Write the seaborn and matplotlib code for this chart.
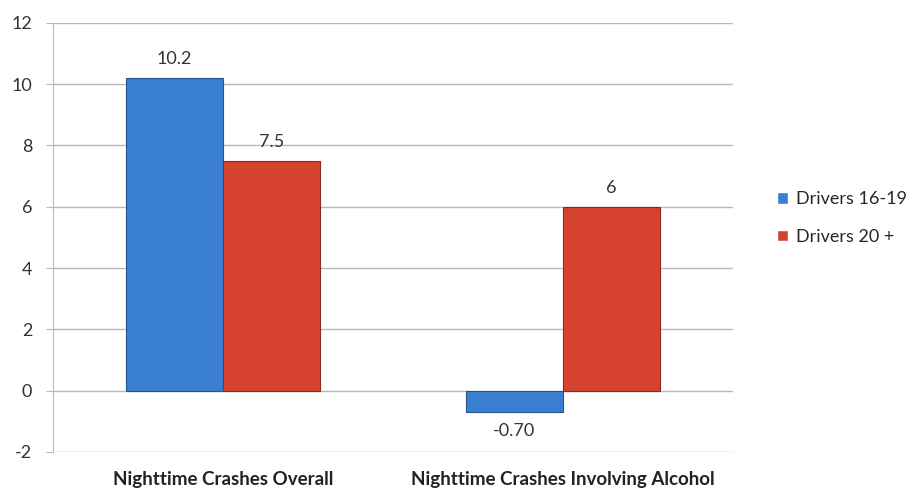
import pandas as pd
import matplotlib.pyplot as plt
import seaborn as sns

# chart data
categories = ['Nighttime Crashes Overall', 'Nighttime Crashes Involving Alcohol']
series = ['Drivers 16-19', 'Drivers 20 +']
drivers_16_19 = [10.2, -0.70]
drivers_20_plus = [7.5, 6]
labels_16_19 = ['10.2', '-0.70']
labels_20_plus = ['7.5', '6']
y_ticks = [-2, 0, 2, 4, 6, 8, 10, 12]

df = pd.DataFrame({
    'category': categories * 2,
    'group': [series[0]] * 2 + [series[1]] * 2,
    'value': drivers_16_19 + drivers_20_plus,
})

sns.set_style('white')
plt.rcParams['font.family'] = ['Lato', 'DejaVu Sans']

fig = plt.figure(figsize=(9.2, 4.98), dpi=100)
ax = fig.add_axes([0.0576, 0.0924, 0.739, 0.862])

palette = {series[0]: '#3b7fd2', series[1]: '#d5432f'}
sns.barplot(data=df, x='category', y='value', hue='group', palette=palette,
            width=0.57, saturation=1, ax=ax, zorder=3, legend=True)

for cont, edge in zip(ax.containers, ['#23558f', '#8e2a1d']):
    for bar in cont:
        bar.set_edgecolor(edge)
        bar.set_linewidth(0.8)

ax.bar_label(ax.containers[0], labels=labels_16_19, padding=8, fontsize=13, color='#333333')
ax.bar_label(ax.containers[1], labels=labels_20_plus, padding=8, fontsize=13, color='#333333')

ax.set_ylim(-2, 12)
ax.set_yticks(y_ticks)
ax.set_yticklabels([str(t) for t in y_ticks], fontsize=13, color='#333333')
ax.grid(axis='y', color='#b8b8b8', linewidth=1, zorder=0)
ax.tick_params(axis='y', length=5, color='#b8b8b8', pad=10, left=True)
ax.tick_params(axis='x', length=0, pad=14)
for lbl in ax.get_xticklabels():
    lbl.set_fontweight('bold')
    lbl.set_fontsize(13.5)
    lbl.set_color('#222222')

ax.set_xlabel('')
ax.set_ylabel('')
for side in ['top', 'right', 'bottom']:
    ax.spines[side].set_visible(False)
ax.spines['left'].set_color('#b8b8b8')

handles, names = ax.get_legend_handles_labels()
ax.legend(handles, names, loc='center left', bbox_to_anchor=(1.055, 0.545),
          frameon=False, fontsize=13, handlelength=0.6, handleheight=0.6,
          handletextpad=0.4, labelspacing=1.2, borderaxespad=0)

fig.savefig('out.png', dpi=100)
